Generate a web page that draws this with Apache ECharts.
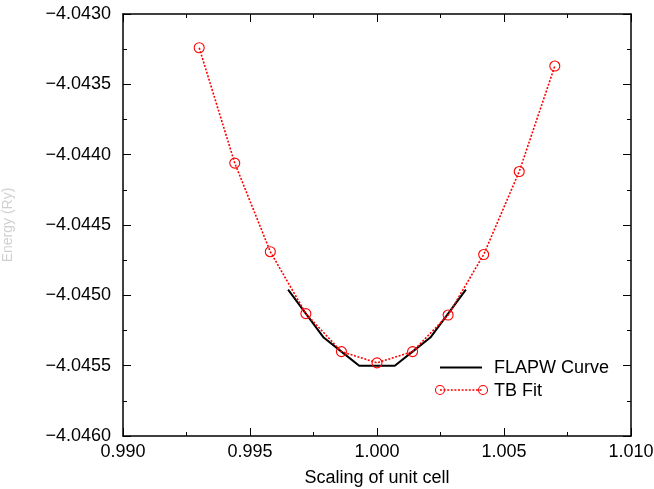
<!DOCTYPE html>
<html>
<head>
<meta charset="utf-8">
<script src="https://cdn.jsdelivr.net/npm/echarts@6/dist/echarts.min.js"></script>
<style>html,body{margin:0;padding:0;background:#fff}#c{width:654px;height:489px}</style>
</head>
<body>
<div id="c"></div>
<script>
var flapwX = [0.9965, 0.9972, 0.9979, 0.9986, 0.9993, 1.0000, 1.0007, 1.0014, 1.0021, 1.0028, 1.0035];
var flapwY = [-4.04496, -4.04513, -4.04530, -4.04540, -4.04550, -4.04550, -4.04550, -4.04540, -4.04530, -4.04513, -4.04496];
var tbX = [0.9930, 0.9944, 0.9958, 0.9972, 0.9986, 1.0000, 1.0014, 1.0028, 1.0042, 1.0056, 1.0070];
var tbY = [-4.04324, -4.04406, -4.04469, -4.04513, -4.04540, -4.04548, -4.04540, -4.04514, -4.04471, -4.04412, -4.04337];
var xTicks = ['0.990', '0.995', '1.000', '1.005', '1.010'];
var yTicks = ['\u22124.0460', '\u22124.0455', '\u22124.0450', '\u22124.0445', '\u22124.0440', '\u22124.0435', '\u22124.0430'];

var FONT = 'Liberation Sans, Arial, Helvetica, sans-serif';
function zip(a, b) { return a.map(function (v, i) { return [v, b[i]]; }); }

var chart = echarts.init(document.getElementById('c'), null, {renderer: 'canvas'});
var axLine = {show: true, lineStyle: {color: '#000', width: 1.5}};
var tickIn = {show: true, inside: true, length: 8, lineStyle: {color: '#000', width: 1}};
var minorIn = {show: true, splitNumber: 2, length: 4, lineStyle: {color: '#000', width: 1}};

chart.setOption({
  animation: false,
  backgroundColor: '#fff',
  grid: {left: 123, right: 23, top: 14, bottom: 53, outerBoundsMode: 'none', containLabel: false},
  xAxis: [{
    type: 'value', min: 0.990, max: 1.010, interval: 0.005,
    axisLine: axLine, axisTick: tickIn, minorTick: minorIn, splitLine: {show: false},
    axisLabel: {color: '#000', fontFamily: FONT, fontSize: 18, margin: 7,
      formatter: function (v) { var i = Math.round((v - 0.990) / 0.005); return xTicks[i]; }},
    name: 'Scaling of unit cell', nameLocation: 'middle', nameGap: 33,
    nameTextStyle: {color: '#000', fontFamily: FONT, fontSize: 18}
  }, {
    type: 'value', position: 'top', min: 0.990, max: 1.010, interval: 0.005,
    axisLine: axLine, axisTick: tickIn, minorTick: minorIn, splitLine: {show: false},
    axisLabel: {show: false}
  }],
  yAxis: [{
    type: 'value', min: -4.0460, max: -4.0430, interval: 0.0005,
    axisLine: axLine, axisTick: tickIn, minorTick: minorIn, splitLine: {show: false},
    axisLabel: {color: '#000', fontFamily: FONT, fontSize: 18, margin: 12,
      formatter: function (v) { var i = Math.round((v + 4.0460) / 0.0005); return yTicks[i]; }},
    name: 'Energy (Ry)', nameLocation: 'middle', nameGap: 108, nameRotate: 90,
    nameTextStyle: {color: '#d0d0d0', fontFamily: FONT, fontSize: 14}
  }, {
    type: 'value', position: 'right', min: -4.0460, max: -4.0430, interval: 0.0005,
    axisLine: axLine, axisTick: tickIn, minorTick: minorIn, splitLine: {show: false},
    axisLabel: {show: false}
  }],
  series: [{
    name: 'FLAPW Curve', type: 'line', data: zip(flapwX, flapwY),
    showSymbol: false, symbol: 'none',
    lineStyle: {color: '#000', width: 2}, z: 2
  }, {
    name: 'TB Fit', type: 'line', data: zip(tbX, tbY),
    symbol: 'circle', symbolSize: 10,
    itemStyle: {color: 'rgba(0,0,0,0)', borderColor: '#f00', borderWidth: 1.1},
    lineStyle: {color: '#f00', width: 1.6, type: [2, 1.6]}, z: 3
  }],
  graphic: [
    {type: 'line', shape: {x1: 440, y1: 367.5, x2: 482, y2: 367.5}, style: {stroke: '#000', lineWidth: 2}},
    {type: 'text', x: 494, y: 368, style: {text: 'FLAPW Curve', fill: '#000', font: '18px ' + FONT, textVerticalAlign: 'middle', verticalAlign: 'middle'}},
    {type: 'line', shape: {x1: 440, y1: 390, x2: 483, y2: 390}, style: {stroke: '#f00', lineWidth: 1.6, lineDash: [2, 1.6]}},
    {type: 'circle', shape: {cx: 440, cy: 390, r: 4.5}, style: {stroke: '#f00', fill: 'none', lineWidth: 1.1}},
    {type: 'circle', shape: {cx: 483, cy: 390, r: 4.5}, style: {stroke: '#f00', fill: 'none', lineWidth: 1.1}},
    {type: 'text', x: 494, y: 391, style: {text: 'TB Fit', fill: '#000', font: '18px ' + FONT, textVerticalAlign: 'middle', verticalAlign: 'middle'}}
  ]
});
</script>
</body>
</html>
